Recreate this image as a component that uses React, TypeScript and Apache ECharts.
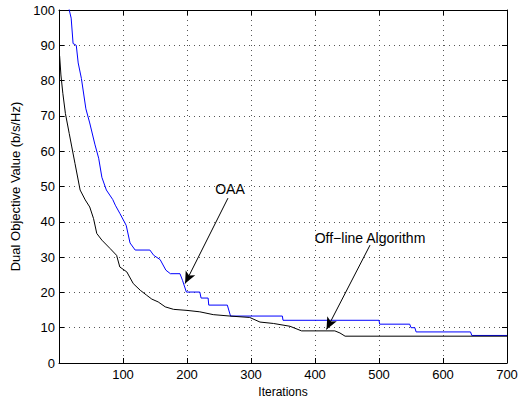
import React, { useEffect, useRef } from "react";
import * as echarts from "echarts";

const oaaIter = [14, 16, 19, 22, 27, 30, 35, 42, 48, 56, 62, 67, 74, 84, 88, 95, 105, 111, 119, 142, 148, 158, 167, 174, 189, 193, 199, 220, 222, 233, 234, 263, 268, 349, 350, 500, 501, 548, 550, 556, 558, 643, 645, 700];
const oaaValue = [103, 100, 97.7, 90.5, 90, 85, 80.6, 72, 68, 62, 58, 52.6, 49, 46.3, 44.7, 42.4, 39, 34, 32, 32, 30.5, 29.3, 26.3, 25.3, 25.3, 23.4, 20.1, 20.1, 18.4, 18.4, 16.4, 16.4, 13.3, 13.3, 12.1, 12.1, 11, 11, 10, 10, 8.8, 8.8, 7.8, 7.8];

const offIter = [1, 3, 6, 10, 16, 20, 25, 33, 41, 48, 54, 59, 67, 80, 90, 95, 106, 116, 127, 137, 145, 155, 166, 179, 200, 220, 241, 267, 298, 314, 335, 361, 379, 431, 439, 447, 700];
const offValue = [87, 81.6, 76.4, 70.7, 65, 61.2, 56.5, 49, 46.2, 44.2, 40.9, 36.7, 34.8, 32.4, 30.5, 27.2, 25.8, 22.5, 20.6, 19.2, 18.1, 17.3, 15.9, 15.2, 14.9, 14.5, 13.7, 13.3, 12.9, 11.6, 11.2, 10.4, 9.1, 9.1, 8.5, 7.6, 7.6];

const oaaArrow = [[264, 46.7], [197, 22.5]];
const offArrow = [[486, 33.4], [418, 9.5]];

const FONT = "'Liberation Sans', Arial, Helvetica, sans-serif";

export default function App() {
  const ref = useRef<HTMLDivElement>(null);
  useEffect(() => {
    if (!ref.current) return;
    const chart = echarts.init(ref.current, null, { renderer: "svg" });
    const axisLine = { show: true, onZero: false, lineStyle: { color: "#000", width: 1 } };
    const tick = { show: true, inside: true, length: 5, lineStyle: { color: "#000" } };
    const grid = { show: true, lineStyle: { color: "#555", type: [1, 4] as any, width: 1 } };
    const arrowLine = (pts: number[][]) => ({
      silent: true,
      symbol: ["none", "arrow"],
      symbolSize: [8, 12],
      label: { show: false },
      lineStyle: { color: "#000", width: 1, type: "solid" },
      data: [[{ coord: pts[0] }, { coord: pts[1] }]],
    });
    chart.setOption({
      animation: false,
      backgroundColor: "#fff",
      textStyle: { fontFamily: FONT },
      grid: { left: 59, right: 13, top: 10, bottom: 35, outerBoundsMode: "none", containLabel: false },
      xAxis: [
        {
          type: "value",
          min: 0,
          max: 700,
          interval: 100,
          name: "Iterations",
          nameLocation: "middle",
          nameGap: 17,
          nameTextStyle: { fontSize: 12, lineHeight: 13, color: "#000", fontFamily: FONT },
          axisLine,
          axisTick: tick,
          splitLine: grid,
          axisLabel: { showMinLabel: false, fontSize: 13, color: "#000", margin: 5, fontFamily: FONT },
        },
        {
          type: "value",
          position: "top",
          min: 0,
          max: 700,
          interval: 100,
          axisLine,
          axisTick: tick,
          splitLine: { show: false },
          axisLabel: { show: false },
        },
      ],
      yAxis: [
        {
          type: "value",
          min: 0,
          max: 100,
          interval: 10,
          name: "Dual Objective Value (b/s/Hz)",
          nameLocation: "middle",
          nameGap: 34,
          nameTextStyle: { fontSize: 13, color: "#000", fontFamily: FONT },
          axisLine,
          axisTick: tick,
          splitLine: grid,
          axisLabel: { fontSize: 13, color: "#000", margin: 4, fontFamily: FONT },
        },
        {
          type: "value",
          position: "right",
          min: 0,
          max: 100,
          interval: 10,
          axisLine,
          axisTick: tick,
          splitLine: { show: false },
          axisLabel: { show: false },
        },
      ],
      series: [
        {
          name: "OAA",
          type: "line",
          data: oaaIter.map((x, i) => [x, oaaValue[i]]),
          showSymbol: false,
          clip: true,
          lineStyle: { color: "#0000ff", width: 1 },
          itemStyle: { color: "#0000ff" },
          markLine: arrowLine(oaaArrow),
        },
        {
          name: "Off-line Algorithm",
          type: "line",
          data: offIter.map((x, i) => [x, offValue[i]]),
          showSymbol: false,
          clip: true,
          lineStyle: { color: "#000", width: 1 },
          itemStyle: { color: "#000" },
          markLine: arrowLine(offArrow),
        },
      ],
      graphic: [
        {
          type: "text",
          x: 230,
          y: 189,
          style: { text: "OAA", fill: "#000", font: `14px ${FONT}`, align: "center", verticalAlign: "middle" },
        },
        {
          type: "text",
          x: 370,
          y: 238,
          style: { text: "Off\u2212line Algorithm", fill: "#000", font: `14px ${FONT}`, align: "center", verticalAlign: "middle" },
        },
      ],
    });
    return () => chart.dispose();
  }, []);
  return <div ref={ref} style={{ position: "fixed", left: 0, top: 0, width: 520, height: 398 }} />;
}
